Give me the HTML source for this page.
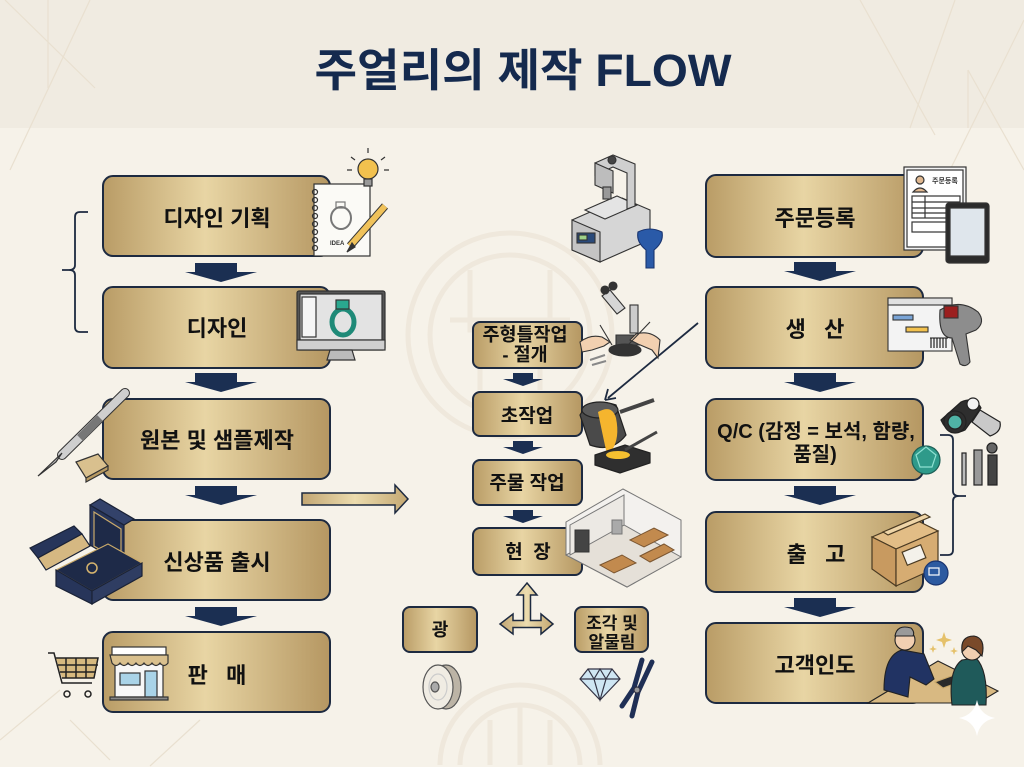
<!DOCTYPE html>
<html><head><meta charset="utf-8"><style>
html,body{margin:0;padding:0;background:#f6f2e9;width:1024px;height:767px;overflow:hidden;}
svg{display:block;}
text{font-family:"Liberation Sans","Noto Sans CJK KR","NanumGothic",sans-serif;font-weight:bold;}
</style></head><body>
<svg width="1024" height="767" viewBox="0 0 1024 767" xmlns="http://www.w3.org/2000/svg">
<defs>
<linearGradient id="g" x1="0" y1="0" x2="1" y2="0">
<stop offset="0" stop-color="#b99c66"/><stop offset="0.45" stop-color="#e8d5a4"/><stop offset="1" stop-color="#b59762"/>
</linearGradient>
<linearGradient id="ga" x1="0" y1="0" x2="1" y2="0">
<stop offset="0" stop-color="#c2a673"/><stop offset="0.5" stop-color="#ecdcae"/><stop offset="1" stop-color="#c4a872"/>
</linearGradient>
</defs>
<rect x="0" y="0" width="1024" height="767" fill="#f6f2e9"/>
<rect x="0" y="0" width="1024" height="128" fill="#f0ebe1"/>
<g stroke="#e9e0d0" stroke-width="1.2" fill="none">
<line x1="5" y1="0" x2="95" y2="88"/><line x1="90" y1="0" x2="10" y2="170"/><line x1="48" y1="0" x2="48" y2="88"/>
<line x1="860" y1="0" x2="935" y2="135"/><line x1="955" y1="0" x2="910" y2="128"/><line x1="1024" y1="20" x2="950" y2="170"/>
<line x1="968" y1="70" x2="1024" y2="170"/><line x1="968" y1="70" x2="968" y2="128"/>
<line x1="0" y1="740" x2="60" y2="690"/><line x1="70" y1="720" x2="110" y2="760"/><line x1="150" y1="766" x2="200" y2="720"/>
</g>
<g stroke="#efe8dc" stroke-width="5" fill="none">
<circle cx="510" cy="335" r="102"/><circle cx="510" cy="335" r="80"/>
<path d="M470 270 v60 h80 v-60 M480 350 v40 M540 350 v40 M450 320 h120"/>
<path d="M440 765 A80 80 0 0 1 600 765"/><path d="M460 765 A60 60 0 0 1 580 765"/>
<path d="M490 720 v45 M550 720 v45 M520 707 v58"/>
</g>
<text x="523" y="86" text-anchor="middle" font-size="45" fill="#152a4e" textLength="417" lengthAdjust="spacingAndGlyphs">주얼리의 제작 FLOW</text>

<g stroke="#1d2a40" stroke-width="2" fill="url(#g)">
<rect x="103" y="176" width="227" height="80" rx="10"/>
<rect x="103" y="287" width="227" height="81" rx="10"/>
<rect x="103" y="399" width="227" height="80" rx="10"/>
<rect x="103" y="520" width="227" height="80" rx="10"/>
<rect x="103" y="632" width="227" height="80" rx="10"/>
<rect x="706" y="175" width="217" height="82" rx="10"/>
<rect x="706" y="287" width="217" height="81" rx="10"/>
<rect x="706" y="399" width="217" height="81" rx="10"/>
<rect x="706" y="512" width="217" height="80" rx="10"/>
<rect x="706" y="623" width="217" height="80" rx="10"/>
<rect x="473" y="322" width="109" height="46" rx="7"/>
<rect x="473" y="392" width="109" height="44" rx="7"/>
<rect x="473" y="460" width="109" height="45" rx="7"/>
<rect x="473" y="528" width="109" height="47" rx="7"/>
<rect x="403" y="607" width="74" height="45" rx="7"/>
<rect x="575" y="607" width="73" height="45" rx="7"/>
</g>

<g fill="#1b2f52">
<path d="M195 263h42v9h20l-36 10-36-10h10z"/>
<path d="M195 373h42v9h20l-36 10-36-10h10z"/>
<path d="M195 486h42v9h20l-36 10-36-10h10z"/>
<path d="M195 607h42v9h20l-36 10-36-10h10z"/>
<path d="M794 262h42v9h20l-36 10-36-10h10z"/>
<path d="M794 373h42v9h20l-36 10-36-10h10z"/>
<path d="M794 486h42v9h20l-36 10-36-10h10z"/>
<path d="M794 598h42v9h20l-36 10-36-10h10z"/>
<path d="M513 373h20v6h10l-20 7-20-7h10z"/>
<path d="M513 441h20v6h10l-20 7-20-7h10z"/>
<path d="M513 510h20v6h10l-20 7-20-7h10z"/>
</g>

<g stroke="#1d2a40" stroke-width="1.8" fill="none">
<path d="M88 212 h-8 q-5 0 -5 5 v48 q0 5 -6 5 h-7 h7 q6 0 6 5 v52 q0 5 5 5 h8"/>
<path d="M940 435 h8 q5 0 5 5 v51 q0 5 6 5 h7 h-7 q-6 0 -6 5 v49 q0 5 -5 5 h-8"/>
</g>

<path d="M302 493 h93 v-8 l13 14 -13 14 v-8 h-93 z" fill="url(#ga)" stroke="#1d2a40" stroke-width="1.5"/>
<path d="M527 583 L537 595 L530.5 595 L530.5 620.5 L541 620.5 L541 614 L553 624 L541 634 L541 627.5 L513 627.5 L513 634 L500 624 L513 614 L513 620.5 L523.5 620.5 L523.5 595 L517 595 Z" fill="url(#ga)" stroke="#1d2a40" stroke-width="1.5"/>
<line x1="698" y1="323" x2="608" y2="398" stroke="#1d2a40" stroke-width="1.8"/>
<path d="M605 400 L608 389 M605 400 L616 398" stroke="#1d2a40" stroke-width="1.8" fill="none"/>

<g fill="#111" text-anchor="middle">
<text x="217" y="226" font-size="22">디자인 기획</text>
<text x="217" y="336" font-size="22">디자인</text>
<text x="217" y="448" font-size="22">원본 및 샘플제작</text>
<text x="217" y="570" font-size="22">신상품 출시</text>
<text x="217" y="683" font-size="22" xml:space="preserve">판   매</text>
<text x="815" y="226" font-size="22">주문등록</text>
<text x="815" y="337" font-size="22" xml:space="preserve">생   산</text>
<text x="816" y="438" font-size="20">Q/C (감정 = 보석, 함량,</text>
<text x="815" y="461" font-size="20">품질)</text>
<text x="816" y="562" font-size="22" xml:space="preserve">출   고</text>
<text x="815" y="673" font-size="22">고객인도</text>
<text x="525" y="341" font-size="18.5">주형틀작업</text>
<text x="525" y="361" font-size="18.5">- 절개</text>
<text x="527" y="422" font-size="19">초작업</text>
<text x="527" y="489" font-size="19">주물 작업</text>
<text x="528" y="558" font-size="19" xml:space="preserve">현  장</text>
<text x="440" y="636" font-size="18">광</text>
<text x="612" y="629" font-size="17">조각 및</text>
<text x="612" y="648" font-size="17">알물림</text>
</g>

<g stroke="#333" stroke-width="1.2">
<rect x="314" y="184" width="56" height="72" fill="#fbfaf6"/>
<g fill="none"><circle cx="315" cy="192" r="2.5"/><circle cx="315" cy="200" r="2.5"/><circle cx="315" cy="208" r="2.5"/><circle cx="315" cy="216" r="2.5"/><circle cx="315" cy="224" r="2.5"/><circle cx="315" cy="232" r="2.5"/><circle cx="315" cy="240" r="2.5"/><circle cx="315" cy="248" r="2.5"/>
<ellipse cx="341" cy="218" rx="10" ry="11" stroke-width="2" stroke="#777"/><rect x="336" y="202" width="9" height="6" stroke="#777"/></g>
<text x="330" y="245" font-size="6" fill="#333" stroke="none">IDEA</text>
<circle cx="368" cy="169" r="10" fill="#f2c14e"/><rect x="364" y="179" width="8" height="7" fill="#999"/>
<path d="M368 153v-5 M355 160l-4-3 M381 160l4-3 M352 170h-5 M384 170h5" fill="none"/>
<path d="M385 206 L350 246" stroke="#333" stroke-width="8"/>
<path d="M385 206 L350 246" stroke="#f0c25a" stroke-width="6"/>
<path d="M352 243 l-5 9 8-5z" fill="#333"/>
</g>
<g stroke="#333" stroke-width="1.2">
<rect x="297" y="291" width="88" height="59" rx="2" fill="#555"/>
<rect x="300" y="294" width="82" height="46" fill="#e3e3e3"/>
<rect x="302" y="297" width="14" height="40" fill="#f5f5f5"/>
<rect x="297" y="340" width="88" height="10" fill="#cfcfcf"/>
<path d="M330 350h22l3 10h-28z" fill="#bbb"/>
<ellipse cx="343" cy="322" rx="11" ry="13" fill="none" stroke="#1f8a78" stroke-width="5"/>
<rect x="336" y="300" width="13" height="9" fill="#2aa88f"/>
</g>
<g stroke="#333" stroke-width="1.2">
<path d="M125 393 L62 455" stroke="#333" stroke-width="10" stroke-linecap="round"/>
<path d="M125 393 L62 455" stroke="#cfcfcf" stroke-width="8" stroke-linecap="round"/>
<path d="M100 418 L80 438" stroke="#777" stroke-width="8"/>
<path d="M62 453 L38 476 L56 462 z" fill="#bbb"/>
<path d="M76 462 l22 -8 10 12 -22 12 z" fill="#d9c08e"/>
<path d="M86 478 l22 -12 v4 l-22 12z" fill="#b89a62"/>
</g>
<g stroke="#1a2236" stroke-width="1.2">
<path d="M30 548 l44 -22 8 8 -44 24z" fill="#27355a"/>
<path d="M38 558 l44 -24 8 12 -44 24z" fill="#d5b882"/>
<path d="M90 505 l34 20 v40 l-34 -20z" fill="#27355a"/>
<path d="M90 505 l10 -6 34 20 -10 6z" fill="#33426a"/>
<path d="M94 512 l27 17 v33 l-27 -16z" fill="#1e2a48" stroke="#c9a96a"/>
<path d="M56 570 l52 -26 34 19 -50 28z" fill="#1e2a48" stroke="#c9a96a"/>
<path d="M56 570 v16 l36 18 v-13z" fill="#27355a"/>
<path d="M92 591 v13 l50 -28 v-13z" fill="#2f3d62"/>
<circle cx="92" cy="568" r="5" fill="none" stroke="#d6b46e" stroke-width="1.5"/>
</g>
<g stroke="#222" stroke-width="1.5" fill="none">
<path d="M48 653 h6 l8 30 h30"/>
<path d="M56 658 h42 l-4 20 h-32" fill="#d6b97f"/>
<path d="M66 658 v20 M76 658 v20 M86 658 v20 M58 665 h40 M60 672 h36"/>
<circle cx="67" cy="694" r="3"/><circle cx="88" cy="694" r="3"/>
</g>
<g stroke="#333" stroke-width="1.2">
<rect x="115" y="664" width="48" height="33" fill="#f7f7f7"/>
<rect x="112" y="647" width="54" height="8" fill="#fff"/>
<path d="M110 655 h58 v8 q-4 5 -8 0 q-4 5 -8 0 q-4 5 -8 0 q-4 5 -8 0 q-4 5 -8 0 q-4 5 -8 0 q-4 5 -8 0z" fill="#d9c08e"/>
<rect x="120" y="673" width="20" height="12" fill="#a9d3e8"/>
<rect x="145" y="671" width="12" height="26" fill="#a9d3e8"/>
<rect x="110" y="697" width="58" height="3" fill="#888"/>
</g>
<g stroke="#333" stroke-width="1.1">
<path d="M572 220 l50 -22 28 12 v30 l-50 22 -28 -12z" fill="#d6d6d6"/>
<path d="M572 220 l28 12 v30 l-28 -12z" fill="#c4c4c4"/>
<rect x="577" y="233" width="18" height="10" fill="#2a4a7a"/>
<rect x="579" y="235" width="8" height="5" fill="#9fd28a"/>
<path d="M585 210 l32 -14 20 9 -32 14z" fill="#e4e4e4"/>
<path d="M595 163 l18 -8 22 9 v42 l-8 3 v-36 l-14 -6 -18 8z" fill="#cfcfcf"/>
<path d="M595 163 v22 l18 8 v-22z" fill="#bdbdbd"/>
<rect x="603" y="187" width="8" height="12" fill="#999"/>
<circle cx="612" cy="160" r="4" fill="#444"/>
<path d="M638 232 q12 -6 24 0 q2 10 -8 18 v18 h-8 v-18 q-10 -8 -8 -18z" fill="#2a5aa8" stroke="#1a3570"/>
</g>
<g stroke="#333" stroke-width="1.1">
<path d="M610 290 l15 18 -8 6 -15 -18z" fill="#d6d6d6"/>
<circle cx="605" cy="290" r="4" fill="#333"/><circle cx="613" cy="286" r="4" fill="#333"/>
<rect x="630" y="305" width="8" height="28" fill="#ccc"/>
<path d="M616 335 h35 v10 h-35z" fill="#555"/>
<ellipse cx="625" cy="350" rx="16" ry="6" fill="#333"/>
<path d="M580 342 q10 -8 22 -5 l8 5 -6 4 -12 4 -10 2z" fill="#f2d0b0"/>
<path d="M660 340 q-10 -10 -24 -6 l-6 6 8 4 14 6 6 8z" fill="#f2d0b0"/>
<line x1="600" y1="325" x2="612" y2="345"/><line x1="650" y1="322" x2="628" y2="345"/>
<path d="M590 360 l15 -5 M592 365 l14 -4" stroke="#888" stroke-width="2"/>
</g>
<g stroke="#222" stroke-width="1.2">
<path d="M580 415 q10 -18 36 -10 l10 30 q-14 18 -36 10z" fill="#4a4a4a"/>
<ellipse cx="600" cy="410" rx="18" ry="8" fill="#5a5a5a"/>
<path d="M620 412 l34 -12" stroke="#444" stroke-width="4"/>
<path d="M598 412 q14 -8 18 6 q4 20 -4 32 q-2 6 -6 0 q-4 -18 -8 -38z" fill="#f5b52e" stroke="none"/>
<path d="M595 455 l30 -10 25 8 v10 l-30 10 -25 -8z" fill="#2f2f2f"/>
<ellipse cx="618" cy="455" rx="12" ry="4" fill="#f5c030" stroke="none"/>
<path d="M625 450 l32 -18" stroke="#444" stroke-width="3"/>
</g>
<g stroke="#777" stroke-width="1">
<path d="M566 522 l57 -33 58 31 v37 l-54 30 -61 -32z" fill="#f3f1ee"/>
<path d="M566 555 l58 -30 57 32 -54 30z" fill="#e5e0d8"/>
<path d="M570 525 l54 -30 v30 l-54 30z" fill="#ece9e4"/>
<rect x="575" y="530" width="14" height="22" fill="#444" stroke="#333"/>
<path d="M600 565 l22 -10 14 8 -22 10z" fill="#c28a4e" stroke="#7a5530"/>
<path d="M630 540 l24 -12 14 7 -24 12z" fill="#c28a4e" stroke="#7a5530"/>
<path d="M640 556 l24 -12 10 6 -24 12z" fill="#c28a4e" stroke="#7a5530"/>
<rect x="612" y="520" width="10" height="14" fill="#aaa"/>
</g>
<g stroke="#555" stroke-width="1.2">
<ellipse cx="446" cy="687" rx="15" ry="22" fill="#bcb4a6"/>
<ellipse cx="438" cy="687" rx="15" ry="22" fill="#f0ece3"/>
<ellipse cx="438" cy="687" rx="9" ry="13" fill="none" stroke="#ccc"/>
<ellipse cx="435" cy="687" rx="4" ry="5" fill="#aaa"/>
</g>
<g stroke="#334" stroke-width="1.2">
<path d="M580 679 l8 -10 h24 l8 10 -20 21z" fill="#cfe6f3"/>
<path d="M580 679 h40 M588 669 l6 10 6 -10 6 10 6 -10 M594 679 l6 21 6 -21" fill="none"/>
<path d="M652 662 l-14 30 -6 24" stroke="#1f2f55" stroke-width="5" fill="none" stroke-linecap="round"/>
<path d="M642 660 l-8 28 -12 18" stroke="#1f2f55" stroke-width="5" fill="none" stroke-linecap="round"/>
<circle cx="637" cy="690" r="3" fill="#999"/>
</g>
<g stroke="#333" stroke-width="1.2">
<rect x="904" y="167" width="62" height="83" fill="#f4f4f4"/>
<rect x="907" y="170" width="56" height="77" fill="#fff"/>
<circle cx="920" cy="180" r="4" fill="#e0b890"/><path d="M913 192 q7 -8 14 0z" fill="#e0b890"/>
<text x="932" y="183" font-size="7" fill="#333" stroke="none">주문등록</text>
<rect x="912" y="196" width="48" height="22" fill="none"/><path d="M912 202h48 M912 208h48 M912 213h48 M925 196v22" fill="none"/>
<rect x="912" y="222" width="48" height="10" fill="none"/>
<rect x="946" y="203" width="43" height="60" rx="3" fill="#2b2b2b"/>
<rect x="950" y="208" width="35" height="48" fill="#dfe6ec"/>
</g>
<g stroke="#333" stroke-width="1.1">
<rect x="888" y="298" width="64" height="53" fill="#f3f3f3"/>
<rect x="888" y="298" width="64" height="7" fill="#e0e0e0"/>
<rect x="893" y="315" width="20" height="5" fill="#7aa4d6"/>
<rect x="906" y="327" width="22" height="5" fill="#f2c14e"/>
<path d="M930 338h18 M931 338v10 M934 338v10 M937 338v10 M940 338v10 M943 338v10 M946 338v10" stroke="#111" fill="none"/>
<path d="M940 310 q20 -12 38 2 q8 10 -2 18 l-10 4 4 28 q-4 6 -10 2 l-8 -26 q-14 0 -12 -28z" fill="#8d8d8d"/>
<rect x="944" y="306" width="14" height="12" fill="#9b1f1f"/>
</g>
<g stroke="#222" stroke-width="1.2">
<path d="M941 420 l20 -18 q14 -6 20 6 l-16 22 q-16 8 -24 -10z" fill="#2e2e2e"/>
<circle cx="955" cy="422" r="11" fill="#2e2e2e"/><circle cx="955" cy="422" r="7" fill="#4fb3a6"/>
<circle cx="973" cy="404" r="6" fill="#f3f3f3"/>
<path d="M980 410 l20 12 q2 10 -10 14 l-18 -14z" fill="#c9c9c9"/>
<rect x="962" y="453" width="4" height="32" fill="#bbb"/>
<rect x="974" y="450" width="8" height="35" fill="#999"/>
<rect x="988" y="455" width="9" height="30" fill="#444"/><circle cx="992" cy="448" r="5" fill="#666"/>
<circle cx="926" cy="460" r="14" fill="#2e9a8a" stroke="#1d5f56"/>
<path d="M916 455 l10 -8 10 8 -4 12 h-12z" fill="none" stroke="#8fe0d2"/>
</g>
<g stroke="#4a3a22" stroke-width="1.2">
<path d="M872 537 l42 -18 24 12 -42 18z" fill="#e2bd86"/>
<path d="M872 537 v32 l24 17 v-37z" fill="#c89a60"/>
<path d="M896 549 l42 -18 v36 l-42 19z" fill="#d6ac72"/>
<path d="M883 532 l42 -18 5 3 -42 18z" fill="#efd5a7"/>
<rect x="904" y="548" width="20" height="14" fill="#f4f1ea" transform="rotate(-22 914 555)"/>
<circle cx="936" cy="573" r="12" fill="#2c5aa0" stroke="#1a3570"/>
<rect x="929" y="568" width="10" height="7" fill="none" stroke="#fff"/>
</g>
<g stroke="#222" stroke-width="1.1">
<path d="M868 703 l70 -42 60 30 -20 12z" fill="#d8b982"/>
<path d="M884 690 q0 -35 18 -40 l22 4 10 25 -8 6 -16 -8 -2 20z" fill="#213363"/>
<circle cx="905" cy="640" r="10" fill="#f1cfb1"/>
<path d="M895 636 q2 -12 16 -8 q4 4 2 8z" fill="#9a9a9a"/>
<path d="M935 682 l22 -8 8 6 -22 8z" fill="#2a2a2a" stroke="#c8a86a"/>
<path d="M952 705 q-4 -35 10 -45 l14 -2 q12 12 10 47z" fill="#1f5a5a"/>
<circle cx="972" cy="650" r="10" fill="#f1cfb1"/>
<path d="M962 652 q-2 -16 12 -16 q12 2 8 20 l-6 -6 -8 -4z" fill="#7a4a2a"/>
<path d="M942 638 l2 -6 2 6 6 2 -6 2 -2 6 -2 -6 -6 -2z" fill="#e5c16a" stroke="none"/>
<path d="M932 648 l1 -3 1 3 3 1 -3 1 -1 3 -1 -3 -3 -1z" fill="#e5c16a" stroke="none"/>
<path d="M953 650 l1 -3 1 3 3 1 -3 1 -1 3 -1 -3 -3 -1z" fill="#e5c16a" stroke="none"/>
</g>
<path d="M977 700 q3 15 18 18 q-15 3 -18 18 q-3 -15 -18 -18 q15 -3 18 -18z" fill="#ffffff"/>
</svg>
</body></html>
